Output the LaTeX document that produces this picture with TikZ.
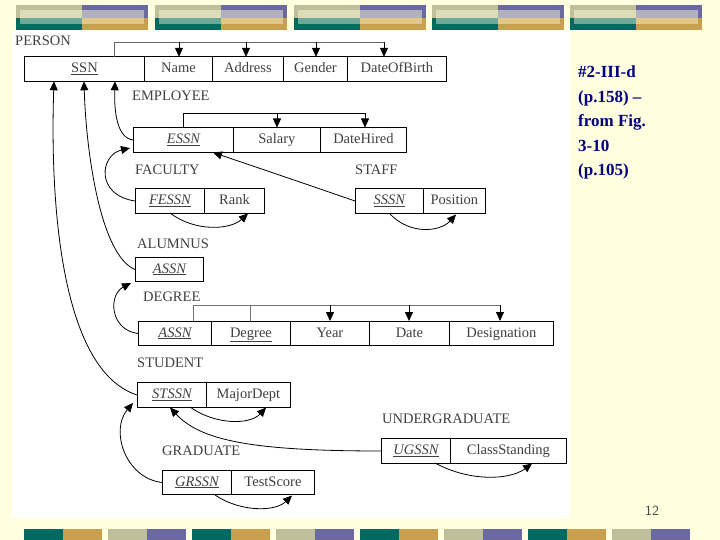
\documentclass[tikz,border=0pt]{standalone}
\usepackage{fontspec}
\setmainfont{Liberation Serif}
\usetikzlibrary{arrows.meta}
\definecolor{bg}{HTML}{FFFFE0}
\definecolor{kh}{HTML}{BFC09A}
\definecolor{khl}{HTML}{DCDDB8}
\definecolor{pu}{HTML}{6A6AA0}
\definecolor{pul}{HTML}{B0B0BE}
\definecolor{te}{HTML}{006A60}
\definecolor{tel}{HTML}{70A898}
\definecolor{go}{HTML}{C8A050}
\definecolor{gol}{HTML}{E0C888}
\definecolor{tx}{HTML}{404040}
\definecolor{navy}{HTML}{000080}
\begin{document}
\begin{tikzpicture}[x=1pt,y=-1pt,
  cell/.style={draw,line width=0.9pt,minimum height=24.5pt,inner sep=0pt,anchor=west,text=tx,text height=10pt,text depth=3pt,font=\fontsize{14.5}{14}\selectfont},
  lbl/.style={anchor=west,inner sep=0pt,text=tx,font=\fontsize{14.5}{14}\selectfont},
  ar/.style={-{Triangle[length=9pt,width=8pt]},line width=0.8pt},
  fk/.style={line width=0.8pt,-{Triangle[length=9pt,width=8pt]}}]
\useasboundingbox (0,0) rectangle (720,540);
\fill[bg] (0,0) rectangle (720,540);
\fill[white] (12,30) rectangle (570,518);
% top banners
\foreach \x in {16,155,294,432,570}{
  \fill[kh] (\x,5) rectangle (\x+66,18);
  \fill[pu] (\x+66,5) rectangle (\x+132,18);
  \fill[te] (\x,18) rectangle (\x+66,30);
  \fill[go] (\x+66,18) rectangle (\x+132,30);
  \fill[khl] (\x+4,10) rectangle (\x+66,18);
  \fill[pul] (\x+66,10) rectangle (\x+128,18);
  \fill[tel] (\x+4,18) rectangle (\x+66,24);
  \fill[gol] (\x+66,18) rectangle (\x+128,24);
}
% bottom bars
\foreach \x/\a/\b in {24/te/go,108/kh/pu,192/te/go,276/kh/pu,360/te/go,444/kh/pu,528/te/go,612/kh/pu}{
  \fill[\a] (\x,529) rectangle (\x+39,540);
  \fill[\b] (\x+39,529) rectangle (\x+78,540);
}
% right text
\node[anchor=north west,align=left,text=navy,font=\bfseries\fontsize{17}{24.5}\selectfont,inner sep=0pt] (ttl) at (578,66) {\#2-III-d\\(p.158) –\\from Fig.\\3-10\\(p.105)};
\node[text=tx,font=\sffamily\fontsize{14}{14}\selectfont,inner sep=0pt] (pg) at (652,511) {12};

% PERSON
\node[lbl] (lp) at (15,41) {PERSON};
\node[cell,minimum width=120pt] (p1) at (24,69) {\underline{SSN}};
\node[cell,minimum width=68pt] (p2) at (144,69) {Name};
\node[cell,minimum width=71pt] (p3) at (212,69) {Address};
\node[cell,minimum width=64pt] (p4) at (283,69) {Gender};
\node[cell,minimum width=99pt] (p5) at (347,69) {DateOfBirth};
\draw[line width=0.8pt,black!60] (114,57) |- (384,42);
\foreach \x in {179,246,316,384}{\draw[ar] (\x,42) -- (\x,56.8);}

% EMPLOYEE
\node[lbl] (le) at (132,96) {EMPLOYEE};
\node[cell,minimum width=100pt] (e1) at (133,140) {\underline{\itshape ESSN}};
\node[cell,minimum width=87pt] (e2) at (233,140) {Salary};
\node[cell,minimum width=86pt] (e3) at (320,140) {DateHired};
\draw[line width=0.8pt] (183,127.7) |- (365,113);
\foreach \x in {277,365}{\draw[ar] (\x,113) -- (\x,127.5);}
\coordinate (s3) at (115,81.3);
\coordinate (s2) at (84,81.3);
\coordinate (s1) at (54,81.3);
\draw[fk] (e1.west) .. controls (118,138) and (114,115) .. (s3);

% FACULTY
\node[lbl] (lf) at (135,170) {FACULTY};
\node[cell,minimum width=69pt] (f1) at (135,201) {\underline{\itshape FESSN}};
\node[cell,minimum width=60pt] (f2) at (204,201) {Rank};
\draw[fk] (f1.west) .. controls (95,195) and (100,155) .. (130,148);
\draw[fk] (170,213) .. controls (195,232) and (230,230) .. (248,213.5);

% STAFF
\node[lbl] (ls) at (355,170) {STAFF};
\node[cell,minimum width=68pt] (st1) at (355,201) {\underline{\itshape SSSN}};
\node[cell,minimum width=62pt] (st2) at (423,201) {Position};
\draw[fk] (st1.west) .. controls (300,182) and (250,165) .. (213,152.5);
\draw[fk] (390,214) .. controls (410,235) and (440,232) .. (456,214.5);

% ALUMNUS
\node[lbl] (la) at (137,244) {ALUMNUS};
\node[cell,minimum width=68pt] (a1) at (135,269.5) {\underline{\itshape ASSN}};
\draw[fk] (a1.west) .. controls (100,255) and (86,150) .. (s2);

% DEGREE
\node[lbl] (ld) at (143,297) {DEGREE};
\node[cell,minimum width=73pt] (d1) at (138,333.5) {\underline{\itshape ASSN}};
\node[cell,minimum width=79pt] (d2) at (211,333.5) {\underline{Degree}};
\node[cell,minimum width=79pt] (d3) at (290,333.5) {Year};
\node[cell,minimum width=80pt] (d4) at (369,333.5) {Date};
\node[cell,minimum width=104pt] (d5) at (449,333.5) {Designation};
\draw[line width=0.8pt,black!55] (193,321.3) |- (500,305);
\draw[line width=0.8pt,black!55] (250,321.3) -- (250,305);
\foreach \x in {330,409,500}{\draw[ar] (\x,305) -- (\x,321);}
\draw[fk] (d1.west) .. controls (110,330) and (108,295) .. (131,283);

% STUDENT
\node[lbl] (lst) at (137,363) {STUDENT};
\node[cell,minimum width=69pt] (u1) at (137,395) {\underline{\itshape STSSN}};
\node[cell,minimum width=84pt] (u2) at (206,395) {MajorDept};
\draw[fk] (u1.west) .. controls (60,370) and (50,200) .. (s1);
\draw[fk] (190,407) .. controls (215,425) and (250,425) .. (266,407.5);

% UNDERGRADUATE
\node[lbl] (lug) at (382,419) {UNDERGRADUATE};
\node[cell,minimum width=69pt] (g1) at (381,451) {\underline{\itshape UGSSN}};
\node[cell,minimum width=116pt] (g2) at (450,451) {ClassStanding};
\draw[fk] (g1.west) .. controls (250,451) and (200,440) .. (170,407.5);
\draw[fk] (435,463) .. controls (470,482) and (510,480) .. (532,463.5);

% GRADUATE
\node[lbl] (lgr) at (162,451) {GRADUATE};
\node[cell,minimum width=69pt] (r1) at (162,482.5) {\underline{\itshape GRSSN}};
\node[cell,minimum width=83pt] (r2) at (231,482.5) {TestScore};
\draw[fk] (r1.west) .. controls (125,478) and (110,430) .. (133,403);
\draw[fk] (215,495) .. controls (240,512) and (275,512) .. (292,495.5);
\end{tikzpicture}
\end{document}
